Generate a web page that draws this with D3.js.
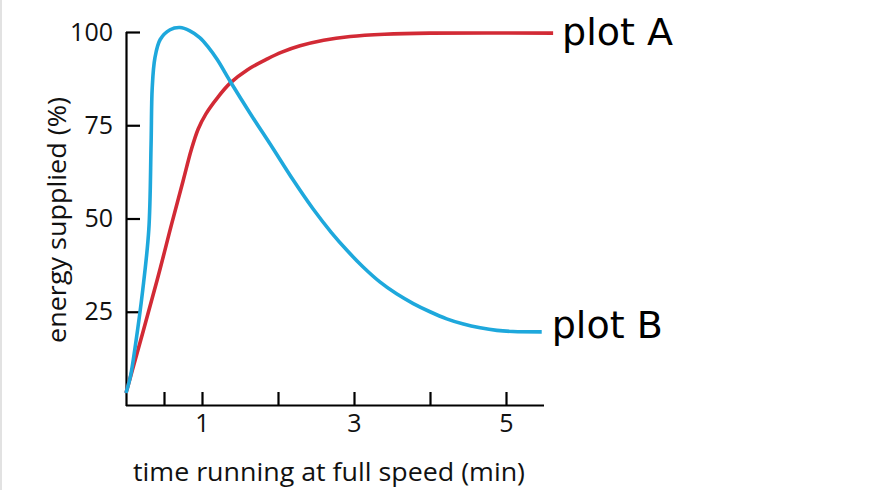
<!DOCTYPE html>
<html>
<head>
<meta charset="utf-8">
<script src="https://cdn.jsdelivr.net/npm/d3@7"></script>
<style>
  html, body { margin: 0; padding: 0; background: #fff; }
  svg { display: block; }
</style>
</head>
<body>
<svg id="chart" width="889" height="490"></svg>
<script>
// ---- data ----
const seriesNames = ["plot A", "plot B"];
const plotA_x = [0, 0.41, 0.60, 0.75, 0.86, 0.95, 1.05, 1.20, 1.37, 1.60, 1.86, 2.05, 2.29, 2.60, 2.95, 3.40, 4.00, 5.62];
const plotA_y = [3.2, 33.5, 48.5, 60.0, 68.5, 74.0, 78.0, 82.3, 86.3, 89.9, 92.8, 94.6, 96.3, 97.8, 98.8, 99.4, 99.7, 99.7];
const plotB_x = [0, 0.06, 0.12, 0.22, 0.30, 0.33, 0.345, 0.38, 0.45, 0.58, 0.71, 0.84, 0.97, 1.08, 1.20, 1.37, 1.63, 1.93, 2.20, 2.46, 2.70, 2.91, 3.12, 3.34, 3.56, 3.78, 4.00, 4.22, 4.44, 4.66, 4.88, 5.09, 5.47];
const plotB_y = [3.2, 7.8, 15.5, 30.8, 47.0, 70.0, 85.0, 93.0, 98.0, 100.6, 101.2, 100.3, 98.5, 96.0, 92.6, 86.8, 78.3, 68.9, 60.3, 52.6, 46.3, 41.4, 37.0, 33.0, 29.8, 27.2, 25.0, 23.1, 21.7, 20.7, 20.0, 19.7, 19.6];
const yTickValues = [25, 50, 75, 100];
const yTickLabels = ["25", "50", "75", "100"];
const xTickValues = [0.5, 1, 2, 3, 4, 5];
const xTickLabels = ["", "1", "", "3", "", "5"];
const xTitle = "time running at full speed (min)";
const yTitle = "energy supplied (%)";

// ---- layout ----
const svg = d3.select("#chart");
const mLeft = 126, mRight = 544, mTop = 32, mBottom = 405;
const x = d3.scaleLinear().domain([0, 5.5]).range([mLeft, mRight]);
const y = d3.scaleLinear().domain([0, 100]).range([mBottom, mTop]);

// faint left border
svg.append("rect").attr("x", 0).attr("y", 0).attr("width", 2).attr("height", 490).attr("fill", "#e2e2e2");

const textFont = "'Open Sans', Lato, sans-serif";

// y axis
const yAxis = svg.append("g")
  .attr("transform", `translate(${mLeft},0)`)
  .call(d3.axisLeft(y).tickValues(yTickValues)
    .tickFormat((d, i) => yTickLabels[i])
    .tickSizeInner(-14).tickSizeOuter(0).tickPadding(13));
yAxis.select(".domain").attr("d", `M0.5,${mBottom + 1}V${mTop}`).attr("stroke-width", 2.2);
yAxis.selectAll(".tick line").attr("stroke-width", 2.2);
yAxis.selectAll(".tick text").attr("font-family", textFont).attr("font-size", 25).attr("fill", "#111");

// x axis
const xAxis = svg.append("g")
  .attr("transform", `translate(0,${mBottom})`)
  .call(d3.axisBottom(x).tickValues(xTickValues)
    .tickFormat((d, i) => xTickLabels[i])
    .tickSizeInner(-13).tickSizeOuter(0).tickPadding(9));
xAxis.select(".domain").attr("d", `M${mLeft},0.5H${mRight}`).attr("stroke-width", 2.2);
xAxis.selectAll(".tick line").attr("stroke-width", 2.2);
xAxis.selectAll(".tick text").attr("font-family", textFont).attr("font-size", 25).attr("fill", "#111");

// lines
const line = d3.line().x(d => x(d[0])).y(d => y(d[1])).curve(d3.curveCatmullRom.alpha(0.5));
const dataA = plotA_x.map((v, i) => [v, plotA_y[i]]);
const dataB = plotB_x.map((v, i) => [v, plotB_y[i]]);
const series = [
  { name: seriesNames[0], data: dataA, color: "#d22a35", dx: 9, dy: 12 },
  { name: seriesNames[1], data: dataB, color: "#1ea8dc", dx: 10, dy: 6 }
];
series.forEach(s => {
  svg.append("path").datum(s.data)
    .attr("d", line).attr("fill", "none")
    .attr("stroke", s.color).attr("stroke-width", 3.6)
    .attr("stroke-linejoin", "round").attr("stroke-linecap", "butt");
  const last = s.data[s.data.length - 1];
  svg.append("text")
    .attr("x", x(last[0]) + s.dx).attr("y", y(last[1]) + s.dy)
    .attr("font-family", "'DejaVu Sans', sans-serif").attr("font-size", 38)
    .attr("fill", "#000").text(s.name);
});

// titles
svg.append("text")
  .attr("x", 329).attr("y", 481)
  .attr("text-anchor", "middle")
  .attr("font-family", textFont).attr("font-size", 26).attr("fill", "#111")
  .attr("textLength", 392).attr("lengthAdjust", "spacingAndGlyphs")
  .text(xTitle);
svg.append("text")
  .attr("transform", `translate(66,220) rotate(-90)`)
  .attr("text-anchor", "middle")
  .attr("font-family", textFont).attr("font-size", 26).attr("fill", "#111")
  .attr("textLength", 246).attr("lengthAdjust", "spacingAndGlyphs")
  .text(yTitle);
</script>
</body>
</html>
